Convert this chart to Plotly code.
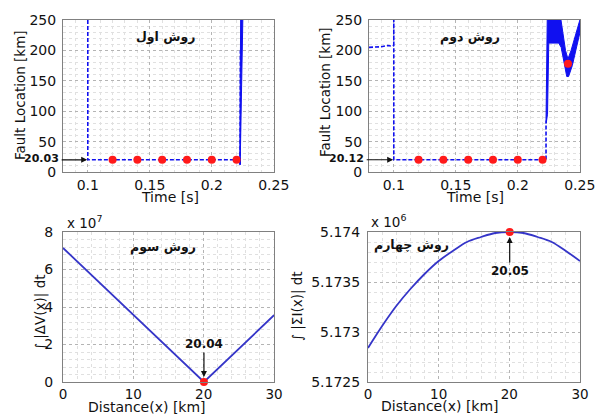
import plotly.graph_objects as go

OFF = 0
W, H = 596, 414

# ---------------- data ----------------
# Method 1 (top-left): fault location vs time
m1_t = [0.1, 0.1, 0.2228, 0.2229, 0.2231]
m1_y = [260, 20.03, 20.03, 12, 200]
m1_band_t = [0.2226, 0.2229, 0.2233, 0.2251, 0.2246, 0.2238, 0.2232, 0.2229]
m1_band_y = [12, 200, 255, 255, 195, 120, 20, 12]
m1_dots_t = [0.12, 0.14, 0.16, 0.18, 0.20, 0.22]
m1_dots_y = [20.03, 20.03, 20.03, 20.03, 20.03, 20.03]

# Method 2 (top-right)
m2_pre_t = [0.08, 0.085, 0.09, 0.095, 0.0985, 0.0995]
m2_pre_y = [205, 205, 206, 208, 207, 208]
m2_t = [0.1, 0.1, 0.1, 0.2228, 0.2228]
m2_y = [208, 260, 20.12, 20.12, 85]
m2_band_t = [0.2228, 0.2238, 0.2345, 0.2385, 0.2405, 0.2430, 0.2508,
             0.2508, 0.2440, 0.2410, 0.2395, 0.2350, 0.2330, 0.2250, 0.2240, 0.2229]
m2_band_y = [85, 255, 255, 200, 186, 200, 255,
             235, 175, 157, 157, 205, 212, 212, 95, 80]
m2_dots_t = [0.12, 0.14, 0.16, 0.18, 0.20, 0.22, 0.2405]
m2_dots_y = [20.12, 20.12, 20.12, 20.12, 20.12, 20.12, 178]

# Method 3 (bottom-left): integral |dV(x)| dt  (x 10^7)
m3_x = [0, 20.04, 30]
m3_y_e7 = [7.15, 0.0, 3.56]

# Method 4 (bottom-right): integral |sum I(x)| dt  (x 10^6)
m4_x = [0, 2, 4, 6, 8, 10, 12, 14, 16, 18, 20, 22, 24, 26, 28, 30]
m4_y_e6 = [5.17284, 5.17306, 5.17326, 5.17343, 5.17358, 5.17371, 5.17381,
           5.17390, 5.17395, 5.17399, 5.17400, 5.17399, 5.17395, 5.17390,
           5.17381, 5.17371]

# ---------------- styling ----------------
BLUE = "#1010f0"
BLUE2 = "#3535c8"
RED = "#ff1a1a"
FONT = "DejaVu Sans, Liberation Sans, Arial"
FA = "DejaVu Sans, Noto Sans, Arial"


def px(x):
    return (x - OFF) / W


def py(y):
    return 1 - (y - OFF) / H


fig = go.Figure()

# top-left
fig.add_trace(go.Scatter(x=m1_t, y=m1_y, mode="lines", xaxis="x", yaxis="y",
                         line=dict(color=BLUE, width=1.6, dash="4px,2px")))
fig.add_trace(go.Scatter(x=m1_band_t, y=m1_band_y, mode="lines", fill="toself",
                         fillcolor=BLUE, xaxis="x", yaxis="y",
                         line=dict(color=BLUE, width=1)))
fig.add_trace(go.Scatter(x=m1_dots_t, y=m1_dots_y, mode="markers", xaxis="x", yaxis="y",
                         marker=dict(color=RED, size=8)))

# top-right
fig.add_trace(go.Scatter(x=m2_pre_t, y=m2_pre_y, mode="lines", xaxis="x2", yaxis="y2",
                         line=dict(color=BLUE, width=1.6, dash="4px,2px")))
fig.add_trace(go.Scatter(x=m2_t, y=m2_y, mode="lines", xaxis="x2", yaxis="y2",
                         line=dict(color=BLUE, width=1.6, dash="4px,2px")))
fig.add_trace(go.Scatter(x=m2_band_t, y=m2_band_y, mode="lines", fill="toself",
                         fillcolor=BLUE, xaxis="x2", yaxis="y2",
                         line=dict(color=BLUE, width=1)))
fig.add_trace(go.Scatter(x=m2_dots_t, y=m2_dots_y, mode="markers", xaxis="x2", yaxis="y2",
                         marker=dict(color=RED, size=8)))

# bottom-left
fig.add_trace(go.Scatter(x=m3_x, y=m3_y_e7, mode="lines", xaxis="x3", yaxis="y3",
                         line=dict(color=BLUE2, width=1.8)))
fig.add_trace(go.Scatter(x=[m3_x[1]], y=[m3_y_e7[1]], mode="markers", xaxis="x3", yaxis="y3",
                         cliponaxis=False, marker=dict(color=RED, size=8)))

# bottom-right
fig.add_trace(go.Scatter(x=m4_x, y=m4_y_e6, mode="lines", xaxis="x4", yaxis="y4",
                         line=dict(color=BLUE2, width=1.8, shape="spline")))
fig.add_trace(go.Scatter(x=[20.05], y=[5.17400], mode="markers", xaxis="x4", yaxis="y4",
                         cliponaxis=False, marker=dict(color=RED, size=8)))


def ax_common(size=14, **kw):
    d = dict(showline=True, linecolor="#808080", linewidth=1, mirror=True, automargin=False,
             ticks="", showgrid=True, gridcolor="#b4b4b4", gridwidth=1, griddash="dot",
             zeroline=False, tickfont=dict(family=FONT, size=size, color="#111111"),
             ticklabeloverflow="allow", fixedrange=True)
    d.update(kw)
    return d


MINC = "#e0e0e0"
top_y = [py(172), py(20)]
bot_y = [py(382), py(232)]

fig.update_layout(
    width=W, height=H, margin=dict(l=0, r=0, t=0, b=0, pad=0, autoexpand=False),
    paper_bgcolor="white", plot_bgcolor="white", showlegend=False, hovermode=False,
    xaxis=ax_common(domain=[px(63), px(274)], range=[0.08, 0.2502], tick0=0.1, dtick=0.05,
                    anchor="y",
                    minor=dict(dtick=0.01, tick0=0.1, showgrid=True, gridcolor=MINC,
                               griddash="dot")),
    yaxis=ax_common(domain=top_y, range=[0, 250], tick0=0, dtick=50, anchor="x",
                    ticklabelstandoff=3,
                    minor=dict(dtick=10, showgrid=True, gridcolor=MINC, griddash="dot")),
    xaxis2=ax_common(domain=[px(369), px(580)], range=[0.08, 0.2502], tick0=0.1, dtick=0.05,
                     anchor="y2",
                     minor=dict(dtick=0.01, tick0=0.1, showgrid=True, gridcolor=MINC,
                                griddash="dot")),
    yaxis2=ax_common(domain=top_y, range=[0, 250], tick0=0, dtick=50, anchor="x2",
                     ticklabelstandoff=3,
                     minor=dict(dtick=10, showgrid=True, gridcolor=MINC, griddash="dot")),
    xaxis3=ax_common(size=13.5, domain=[px(63), px(274)], range=[0, 30], tick0=0, dtick=10,
                     anchor="y3",
                     minor=dict(dtick=2, showgrid=True, gridcolor=MINC, griddash="dot")),
    yaxis3=ax_common(domain=bot_y, range=[0, 8], tick0=0, dtick=2, anchor="x3",
                     ticklabelstandoff=6,
                     minor=dict(dtick=0.4, showgrid=True, gridcolor=MINC, griddash="dot")),
    xaxis4=ax_common(size=13.5, domain=[px(368), px(580)], range=[0, 30], tick0=0, dtick=10,
                     anchor="y4",
                     minor=dict(dtick=2, showgrid=True, gridcolor=MINC, griddash="dot")),
    yaxis4=ax_common(domain=bot_y, range=[5.1725, 5.174], tickmode="array",
                     tickvals=[5.1725, 5.173, 5.1735, 5.174],
                     ticktext=["5.1725", "5.173", "5.1735", "5.174"], anchor="x4",
                     ticklabelstandoff=4,
                     minor=dict(tickmode="linear", tick0=5.1725, dtick=0.0001, showgrid=True,
                                gridcolor=MINC, griddash="dot")),
)

ann = []


def txt(x, y, s, size=14, angle=0, xanchor="center", bold=False, family=FONT):
    ann.append(dict(x=px(x), y=py(y), xref="paper", yref="paper", text=(f"<b>{s}</b>" if bold else s),
                    showarrow=False, textangle=angle, xanchor=xanchor, yanchor="middle",
                    font=dict(family=family, size=size, color="#111111")))


# axis titles
txt(170, 197, "Time [s]", 14)
txt(475, 197, "Time [s]", 14)
txt(147, 407, "Distance(x) [km]", 14)
txt(440, 406, "Distance(x) [km]", 14)
txt(20, 95, "Fault Location [km]", 13.5, angle=-90)
txt(325, 92, "Fault Location [km]", 13.5, angle=-90)
txt(40, 312, "∫ |ΔV(x)| dt", 13.5, angle=-90)
txt(297, 306, "∫ |ΣI(x)| dt", 13.5, angle=-90)

# exponent labels
txt(65, 222, "x 10<sup>7</sup>", 13.5, xanchor="left")
txt(369, 221, "x 10<sup>6</sup>", 13.5, xanchor="left")

# method titles (Persian)
txt(165, 37, "روش اول", 12.5, bold=True, family=FA)
txt(470, 37, "روش دوم", 12.5, bold=True, family=FA)
txt(163, 247, "روش سوم", 12.5, bold=True, family=FA)
txt(411, 245, "روش چهارم", 12.5, bold=True, family=FA)

# special tick labels for the fault location values
txt(61, 158.5, "20.03", 11, xanchor="right", bold=True)
txt(366, 158.5, "20.12", 11, xanchor="right", bold=True)

# arrows
for xr, yr, xv, yv, axp in [("x", "y", 0.0995, m1_dots_y[0], -27),
                            ("x2", "y2", 0.0995, m2_dots_y[0], -28)]:
    ann.append(dict(x=xv, y=yv, xref=xr, yref=yr, ax=axp, ay=0, text="", showarrow=True,
                    arrowhead=2, arrowsize=1, arrowwidth=1.2, arrowcolor="#111111"))

ann.append(dict(x=m3_x[1], y=m3_y_e7[1], xref="x3", yref="y3", ax=0, ay=-38,
                text="<b>20.04</b>", showarrow=True, arrowhead=2, arrowsize=1, arrowwidth=1.2,
                arrowcolor="#111111", standoff=5,
                font=dict(family=FONT, size=12, color="#111111")))
ann.append(dict(x=20.05, y=5.17400, xref="x4", yref="y4", ax=0, ay=39,
                text="<b>20.05</b>", showarrow=True, arrowhead=2, arrowsize=1, arrowwidth=1.2,
                arrowcolor="#111111", standoff=5,
                font=dict(family=FONT, size=12, color="#111111")))

fig.update_layout(annotations=ann)

fig.write_html(
    "out.html",
    config={"displayModeBar": False, "staticPlot": True},
    post_script="document.documentElement.style.overflow='hidden';"
                "document.body.style.margin='0';document.body.style.overflow='hidden';",
)
